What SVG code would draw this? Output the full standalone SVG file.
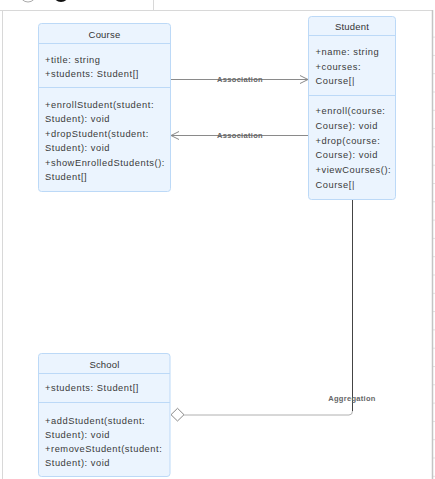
<svg xmlns="http://www.w3.org/2000/svg" width="435" height="479" viewBox="0 0 435 479">
  <style>
    .box { fill: #ebf4fe; stroke: #bcd9f7; stroke-width: 1; }
    .sep { stroke: #bcd9f7; stroke-width: 1; }
    .title { font-family: "Liberation Sans", Arial, sans-serif; font-size: 9.5px; fill: #333; text-anchor: middle; letter-spacing: 0.2px; }
    .member { font-family: "Liberation Sans", Arial, sans-serif; font-size: 9.3px; fill: #3a3a3a; letter-spacing: 0.55px; }
    .edge { fill: none; stroke: #8a8a8a; stroke-width: 1; }
    .elabel { font-family: "Liberation Sans", Arial, sans-serif; font-size: 7.5px; font-weight: bold; fill: #666; text-anchor: middle; letter-spacing: 0.3px; }
    .chrome { stroke: #d8d8d8; stroke-width: 1; fill: none; }
  </style>
  <defs>
    <marker id="openArrow" markerWidth="12" markerHeight="12" refX="9" refY="6" orient="auto" markerUnits="userSpaceOnUse">
      <path d="M1,2 L9,6 L1,10" fill="none" stroke="#8a8a8a" stroke-width="1"/>
    </marker>
    <pattern id="ticks" width="4" height="18.3" patternUnits="userSpaceOnUse">
      <line x1="0" y1="0.5" x2="4" y2="0.5" stroke="#e2e2e2" stroke-width="1"/>
    </pattern>
  </defs>

  <rect width="435" height="479" fill="#ffffff"/>

  <!-- canvas frame and toolbar -->
  <g id="chrome">
    <circle cx="28" cy="-6" r="8" fill="#fff" stroke="#aaa" stroke-width="1"/>
    <circle cx="61" cy="-6" r="8" fill="#111"/>
    <line class="chrome" x1="0" y1="10.5" x2="432" y2="10.5"/>
    <line class="chrome" x1="153.5" y1="0" x2="153.5" y2="10"/>
    <line class="chrome" x1="2.5" y1="11" x2="2.5" y2="479"/>
    <rect x="432.5" y="20" width="3" height="459" fill="url(#ticks)"/>
    <line x1="432.5" y1="10" x2="432.5" y2="479" stroke="#c4c4c4" stroke-width="1.5"/>
  </g>

  <!-- connectors -->
  <g id="connectors">
    <line class="edge" x1="171" y1="79.5" x2="308" y2="79.5" marker-end="url(#openArrow)"/>
    <text class="elabel" x="240" y="82">Association</text>
    <line class="edge" x1="308" y1="135.5" x2="171" y2="135.5" marker-end="url(#openArrow)"/>
    <text class="elabel" x="240" y="138">Association</text>
    <path d="M352.5,199.5 V411" fill="none" stroke="#444" stroke-width="1"/>
    <path d="M352.5,411 Q352.5,415 349,415 H184" fill="none" stroke="#b0b0b0" stroke-width="1"/>
    <polygon points="171,414.7 177.5,408.3 184,414.7 177.5,421" fill="#fff" stroke="#888" stroke-width="1"/>
    <text class="elabel" x="352" y="401">Aggregation</text>
  </g>

  <!-- Course class -->
  <g id="course">
    <rect class="box" x="38.5" y="23.5" width="132" height="168" rx="3"/>
    <line class="sep" x1="38.5" y1="43.5" x2="170.5" y2="43.5"/>
    <line class="sep" x1="38.5" y1="87.5" x2="170.5" y2="87.5"/>
    <text class="title" x="104.5" y="37.5">Course</text>
    <text class="member" x="45" y="62.5">+title: string</text>
    <text class="member" x="45" y="76.5">+students: Student[]</text>
    <text class="member" x="45" y="107.5">+enrollStudent(student:</text>
    <text class="member" x="45" y="122">Student): void</text>
    <text class="member" x="45" y="136.5">+dropStudent(student:</text>
    <text class="member" x="45" y="151">Student): void</text>
    <text class="member" x="45" y="166">+showEnrolledStudents():</text>
    <text class="member" x="45" y="180">Student[]</text>
  </g>

  <!-- Student class -->
  <g id="student">
    <rect class="box" x="308.5" y="16.5" width="87" height="183" rx="3"/>
    <line class="sep" x1="308.5" y1="35.5" x2="395.5" y2="35.5"/>
    <line class="sep" x1="308.5" y1="95.5" x2="395.5" y2="95.5"/>
    <text class="title" x="352" y="29.5">Student</text>
    <text class="member" x="315.5" y="55">+name: string</text>
    <text class="member" x="315.5" y="69.5">+courses:</text>
    <text class="member" x="315.5" y="83.5">Course[|</text>
    <text class="member" x="315.5" y="114">+enroll(course:</text>
    <text class="member" x="315.5" y="128.5">Course): void</text>
    <text class="member" x="315.5" y="143.5">+drop(course:</text>
    <text class="member" x="315.5" y="158">Course): void</text>
    <text class="member" x="315.5" y="172.5">+viewCourses():</text>
    <text class="member" x="315.5" y="187.5">Course[|</text>
  </g>

  <!-- School class -->
  <g id="school">
    <rect class="box" x="38.5" y="353.5" width="131.5" height="123" rx="3"/>
    <line class="sep" x1="38.5" y1="373.5" x2="170" y2="373.5"/>
    <line class="sep" x1="38.5" y1="402.5" x2="170" y2="402.5"/>
    <text class="title" x="104.5" y="368">School</text>
    <text class="member" x="45" y="390.5">+students: Student[]</text>
    <text class="member" x="45" y="424">+addStudent(student:</text>
    <text class="member" x="45" y="437.5">Student): void</text>
    <text class="member" x="45" y="452">+removeStudent(student:</text>
    <text class="member" x="45" y="466">Student): void</text>
  </g>
</svg>
